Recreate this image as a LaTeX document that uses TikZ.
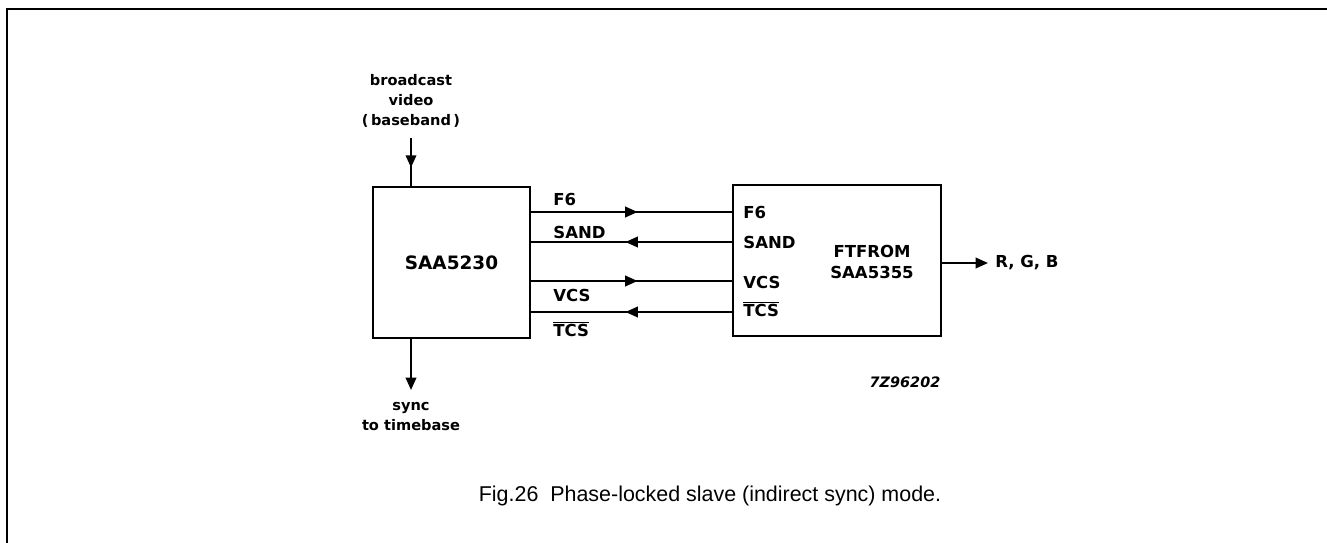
\documentclass[tikz,border=0pt]{standalone}
\usepackage{fontspec}
\setmainfont{Liberation Sans}
\newfontfamily\dvfont{DejaVu Sans}
\usetikzlibrary{arrows.meta,positioning,calc,decorations.markings}

\newcommand{\pinfont}{\dvfont\bfseries\fontsize{9.4}{11}\selectfont}
\newcommand{\chipfont}{\dvfont\bfseries\fontsize{10.5}{12}\selectfont}
\newcommand{\sigfont}{\dvfont\bfseries\fontsize{8.3}{11.4}\selectfont}

\tikzset{
  chip/.style={draw,line width=1.5pt,inner sep=0pt},
  pin/.style={anchor=west,inner sep=0pt,font=\pinfont},
  sig/.style={align=center,inner sep=0pt,font=\sigfont},
  wire/.style={line width=1.1pt},
  midarrow/.style={wire,postaction={decorate},
    decoration={markings,mark=at position #1 with {\arrow{Triangle[length=7pt,width=6pt]}}}},
  endarrow/.style={wire,-{Triangle[length=7pt,width=6pt]}}
}

\begin{document}
\begin{tikzpicture}[x=0.02cm,y=-0.02cm]
  \useasboundingbox (0,0) rectangle (1327,543);
  % page frame
  \draw[line width=0.8pt] (7,543) -- (7,9) -- (1327,9);

  % the two chips
  \node[chip,minimum width=3.14cm,minimum height=3.02cm,font=\chipfont] (saa) at (451.5,262.5) {SAA5230};
  \node[chip,minimum width=4.16cm,minimum height=3.02cm] (ft) at (837,260.5) {};
  \node[font=\pinfont,align=center] (ftname) at (872,262) {FTFROM\\[1pt]SAA5355};

  % signal rows
  \coordinate (r1) at (0,212);
  \coordinate (r2) at (0,242);
  \coordinate (r3) at (0,281);
  \coordinate (r4) at (0,312);

  % pin names at the first chip
  \node[pin] (lf6) at (553,199) {F6};
  \node[pin] (lsand) at (553,232) {SAND};
  \node[pin] (lvcs) at (553,295) {VCS};
  \node[pin] (ltcs) at (553,329) {$\overline{\mbox{TCS}}$};

  % pin names inside the second chip
  \node[pin] (rf6) at (743,212) {F6};
  \node[pin] (rsand) at (743,242) {SAND};
  \node[pin] (rvcs) at (743,282) {VCS};
  \node[pin] (rtcs) at (743,309) {$\overline{\mbox{TCS}}$};

  \draw[midarrow=0.53] (saa.east |- r1) -- (ft.west |- r1);
  \draw[midarrow=0.53] (ft.west |- r2) -- (saa.east |- r2);
  \draw[midarrow=0.53] (saa.east |- r3) -- (ft.west |- r3);
  \draw[midarrow=0.53] (ft.west |- r4) -- (saa.east |- r4);

  % video in, sync out
  \node[sig] (vin) at (411,101) {broadcast\\video\\(\,baseband\,)};
  \coordinate (vintop) at (411,138);
  \draw[midarrow=0.62] (vintop) -- (vintop |- saa.north);

  \node[sig] (sync) at (411,417) {sync\\to timebase};
  \coordinate (synctip) at (411,390);
  \draw[endarrow] (synctip |- saa.south) -- (synctip);

  % RGB out
  \node[pin] (rgb) at (995,263) {R, G, B};
  \draw[endarrow,shorten >=4pt] (ft.east |- rgb) -- (rgb.west);

  \node[font=\dvfont\bfseries\itshape\fontsize{8.2}{10}\selectfont] (code) at (905,382) {7Z96202};

  % caption
  \node[font=\fontsize{12.2}{14}\selectfont] (cap) at (710,496) {Fig.26\ \ Phase-locked slave (indirect sync) mode.};
\end{tikzpicture}
\end{document}
